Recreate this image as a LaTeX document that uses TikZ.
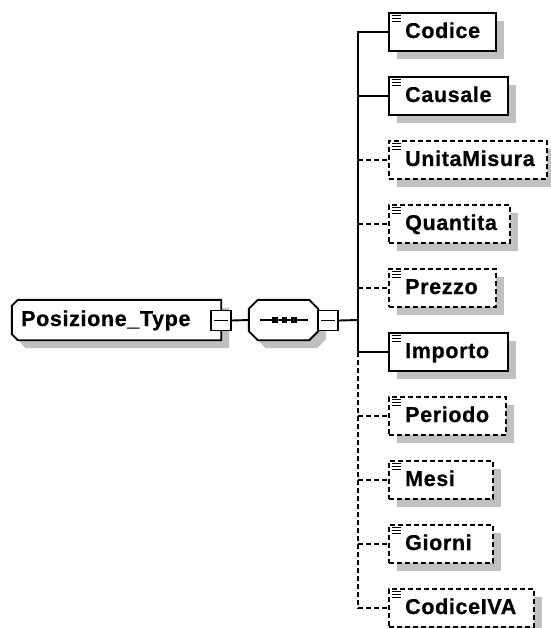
\documentclass[tikz,border=0pt]{standalone}
\usepackage{fontspec}
\newfontfamily\elfont{Liberation Sans}[LetterSpace=3,BoldFeatures={FakeBold=0.7}]
\usetikzlibrary{shadows}
\definecolor{shgray}{RGB}{192,192,192}
\begin{document}
\begin{tikzpicture}[x=1pt,y=-1pt,
  lw/.style={line width=1.9pt},
  shad/.style={general shadow={fill=shgray, shadow xshift=8pt, shadow yshift=-8pt}},
  el/.style={draw, lw, fill=white, shad, minimum height=38pt, inner sep=0pt, anchor=west},
  opt/.style={el, dash pattern=on 5pt off 3pt},
  lbl/.style={anchor=base west, inner sep=0pt, font=\elfont\bfseries\fontsize{21.5}{25}\selectfont},
  conn/.style={lw},
  optconn/.style={lw, dash pattern=on 5pt off 3pt},
  iconline/.style={line width=1.3pt},
  minus/.style={draw, lw, fill=white, minimum size=20pt, inner sep=0pt,
    path picture={\draw[line width=1.5pt] ([xshift=3pt]path picture bounding box.west) -- ([xshift=-3pt]path picture bounding box.east);}},
  holder/.style={minimum width=#1, minimum height=40pt, inner sep=0pt}
]
\useasboundingbox (0,0) rectangle (550,628);

% root element Posizione_Type
\node[holder=209pt] (pos) at (116.5,320) {};
\draw[lw, fill=white, shad]
  ([xshift=6pt]pos.north west) -- (pos.north east) -- (pos.south east)
  -- ([xshift=6pt]pos.south west) -- ([yshift=6pt]pos.south west)
  -- ([yshift=-6pt]pos.north west) -- cycle;
\node[lbl] (posl) at (21,326) {Posizione\_Type};
\node[minus] (pm) at (221,320.5) {};

% sequence compositor
\node[holder=69pt] (seq) at (283.5,320) {};
\draw[lw, fill=white, shad]
  ([xshift=9pt]seq.north west) -- ([xshift=-9pt]seq.north east)
  -- ([yshift=-9pt]seq.north east) -- ([yshift=9pt]seq.south east)
  -- ([xshift=-9pt]seq.south east) -- ([xshift=9pt]seq.south west)
  -- ([yshift=9pt]seq.south west) -- ([yshift=-9pt]seq.north west) -- cycle;
\draw[line width=1.5pt] ([xshift=11pt]seq.west) -- ([xshift=-10pt]seq.east);
\foreach \dx in {275,284.5,294}{
  \fill (\dx-2.8,317.2) rectangle (\dx+2.8,322.8);
}
\node[minus] (sm) at (328,320.5) {};

\draw[conn] (pm.east) -- (seq.west);
\coordinate (jc) at (358,320);
\draw[conn] (sm.east) -- (jc);

% child elements
\foreach \n/\w/\s/\c [count=\i from 0] in {
  Codice/107/el/conn, Causale/119/el/conn, UnitaMisura/158/opt/optconn,
  Quantita/121/opt/optconn, Prezzo/107/opt/optconn, Importo/119/el/conn,
  Periodo/117/opt/optconn, Mesi/104/opt/optconn, Giorni/104/opt/optconn,
  CodiceIVA/145/opt/optconn}{
  \node[\s, minimum width=\w pt] (\n) at (388,{32+64*\i}) {};
  \node[lbl] (t\n) at ([xshift=17pt,yshift=-6pt]\n.west) {\n};
  \draw[iconline] ([xshift=4pt,yshift=-3.5pt]\n.north west) -- ++(9,0)
                  ([xshift=4pt,yshift=-6.5pt]\n.north west) -- ++(9,0)
                  ([xshift=4pt,yshift=-9.5pt]\n.north west) -- ++(9,0);
  \coordinate (j\n) at (358,{32+64*\i});
  \draw[\c] (j\n) -- (\n.west);
}
\draw[conn] ([yshift=0.95pt]jCodice) -- (jImporto);
\draw[optconn] (jImporto) -- ([yshift=-0.95pt]jCodiceIVA);
\end{tikzpicture}
\end{document}
